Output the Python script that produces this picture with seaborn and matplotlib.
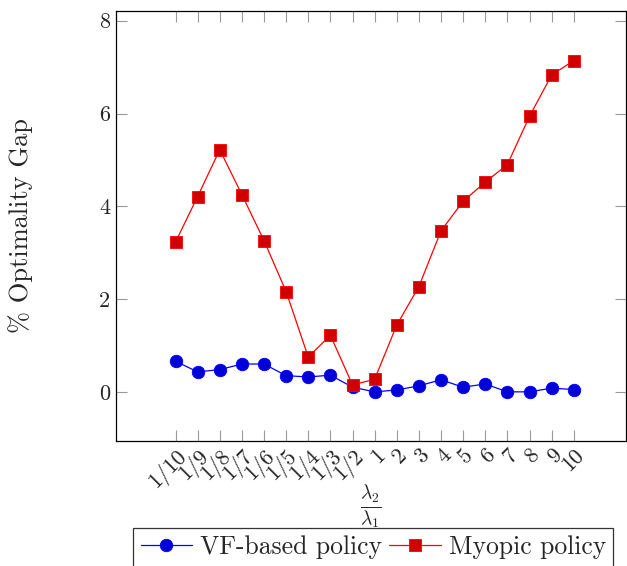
import numpy as np
import pandas as pd
import matplotlib
matplotlib.use("Agg")
import matplotlib.pyplot as plt
import seaborn as sns

# --- DATA ---
ratio_labels = ['1/10', '1/9', '1/8', '1/7', '1/6', '1/5', '1/4', '1/3', '1/2',
                '1', '2', '3', '4', '5', '6', '7', '8', '9', '10']
vf_gap = [0.66, 0.43, 0.48, 0.60, 0.60, 0.35, 0.32, 0.36, 0.10,
          0.00, 0.04, 0.13, 0.26, 0.10, 0.17, 0.00, 0.00, 0.08, 0.05]
myopic_gap = [3.23, 4.21, 5.22, 4.25, 3.26, 2.16, 0.75, 1.22, 0.15,
              0.27, 1.44, 2.27, 3.47, 4.11, 4.52, 4.90, 5.94, 6.83, 7.14]

df = pd.DataFrame({'pos': np.arange(len(ratio_labels)),
                   'vf': vf_gap, 'myopic': myopic_gap})

sns.set_style("ticks")
plt.rcParams['font.family'] = ['cmr10', 'DejaVu Serif']
plt.rcParams['mathtext.fontset'] = 'cm'
plt.rcParams['axes.unicode_minus'] = False

fig = plt.figure(figsize=(6.27, 5.66), dpi=100)
ax = fig.add_axes([0.185, 0.2208, 0.813, 0.7598])

# --- VISUALIZATION ---
sns.lineplot(data=df, x='pos', y='vf', ax=ax, color='blue', lw=0.9,
             marker='o', markersize=9, markerfacecolor=(0, 0, 0.85),
             markeredgecolor='blue', markeredgewidth=0.6, label='VF-based policy')
sns.lineplot(data=df, x='pos', y='myopic', ax=ax, color='red', lw=0.9,
             marker='s', markersize=8, markerfacecolor=(0.82, 0, 0),
             markeredgecolor='red', markeredgewidth=0.6, label='Myopic policy')

ax.set_xlim(-2.69, 20.35)
ax.set_ylim(-1.06, 8.21)
ax.set_yticks([0, 2, 4, 6, 8])
ax.set_xticks(df['pos'])
ax.set_xticklabels(ratio_labels, rotation=45, ha='right', rotation_mode='anchor')

ax.tick_params(direction='in', top=True, right=True, length=8, width=0.8,
               color='#999999', labelsize=16, pad=4)
ax.tick_params(axis='x', pad=3)
for s in ax.spines.values():
    s.set_linewidth(0.9)
    s.set_color('black')

ax.set_xlabel(r'$\frac{\lambda_2}{\lambda_1}$', fontsize=20)
ax.xaxis.set_label_coords(0.5, -0.097)
ax.set_ylabel('% Optimality Gap', fontsize=19)
ax.yaxis.set_label_coords(-0.163, 0.5)

leg = ax.legend(loc='upper left', bbox_to_anchor=(0.212, 0.068), bbox_transform=fig.transFigure,
                ncol=2, fontsize=18.5, frameon=True, fancybox=False, handlelength=2.0,
                handletextpad=0.3, columnspacing=0.3, borderpad=0.3, borderaxespad=0)
leg.get_frame().set_edgecolor('black')
leg.get_frame().set_linewidth(0.9)

fig.savefig('out.png', dpi=100)
